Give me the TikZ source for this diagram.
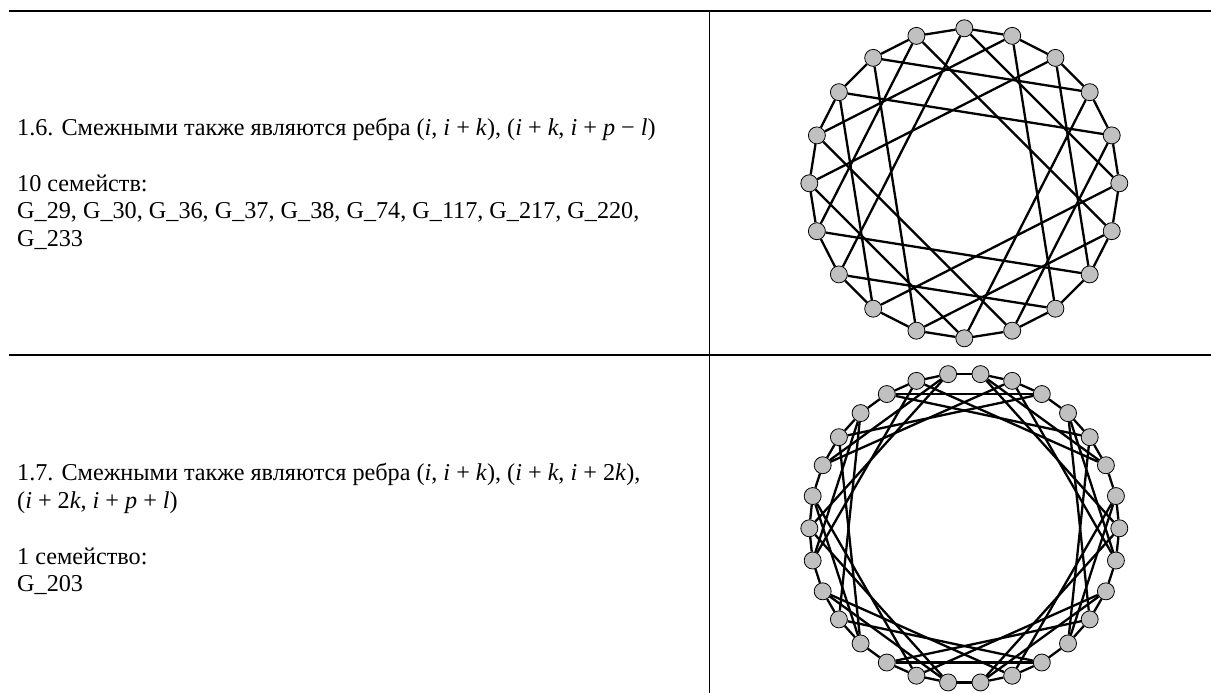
\documentclass[tikz,border=0pt]{standalone}
\usepackage{fontspec}
\setmainfont{Liberation Serif}
\usepackage{xcolor}
\usepackage{tikz}
\definecolor{nodegray}{RGB}{192,192,192}

\begin{document}
\begin{tikzpicture}[
      x=1pt, y=1pt,
      vertex/.style={circle, draw=black, line width=0.8pt, fill=nodegray, minimum size=17pt, inner sep=0pt},
      edge/.style={line width=2.3pt},
      rule/.style={line width=2.5pt},
      txt/.style={anchor=base west, inner sep=0pt, font=\fontsize{24.2}{27.7}\selectfont}
    ]
      \useasboundingbox (0,0) rectangle (1211,693);
      % table rules
      \draw[rule] (9,682) -- (1211,682);
      \draw[rule] (9,338) -- (1211,338);
      \draw[line width=1pt] (709,683) -- (709,0);
      % texts, row 1.6
      \node[txt] (t16a) at (17,557) {1.6. Смежными также являются ребра (\textit{i}, \textit{i} + \textit{k}), (\textit{i} + \textit{k}, \textit{i} + \textit{p} − \textit{l})};
      \node[txt] (t16b) at (17,501.6) {10 семейств:};
      \node[txt] (t16c) at (17,474) {G\_29, G\_30, G\_36, G\_37, G\_38, G\_74, G\_117, G\_217, G\_220,};
      \node[txt] (t16d) at (17,446.2) {G\_233};
      % texts, row 1.7
      \node[txt] (t17a) at (17,212) {1.7. Смежными также являются ребра (\textit{i}, \textit{i} + \textit{k}), (\textit{i} + \textit{k}, \textit{i} + 2\textit{k}),};
      \node[txt] (t17b) at (17,184.3) {(\textit{i} + 2\textit{k}, \textit{i} + \textit{p} + \textit{l})};
      \node[txt] (t17c) at (17,128.9) {1 семейство:};
      \node[txt] (t17d) at (17,101.2) {G\_203};
      % graph of 1.6: 20 vertices
      \begin{scope}[shift={(964.3,509.7)}]
        \foreach \i in {0,...,19}
          \node[vertex] (t\i) at ({90-18*\i}:155) {};
      \end{scope}
      \foreach \i in {0,...,19} {
        \pgfmathtruncatemacro\na{mod(\i+1,20)}
        \draw[edge] (t\i) -- (t\na);
      }
      \foreach \i in {0,2,...,18} {
        \pgfmathtruncatemacro\na{mod(\i+5,20)}
        \pgfmathtruncatemacro\nb{mod(\i+13,20)}
        \draw[edge] (t\i) -- (t\na) (t\i) -- (t\nb);
      }
      % graph of 1.7: 30 vertices
      \begin{scope}[shift={(964.3,164.7)}]
        \foreach \i in {0,...,29}
          \node[vertex] (b\i) at ({12*\i}:155) {};
      \end{scope}
      \foreach \i in {0,...,29} {
        \pgfmathtruncatemacro\na{mod(\i+1,30)}
        \pgfmathtruncatemacro\nb{mod(\i+7,30)}
        \pgfmathtruncatemacro\nc{mod(\i+5,30)}
        \pgfmathtruncatemacro\rem{mod(\i,3)}
        \draw[edge] (b\i) -- (b\na);
        \ifnum\rem=1 \else \draw[edge] (b\i) -- (b\nb); \fi
        \ifnum\rem=2 \draw[edge] (b\i) -- (b\nc); \fi
      }
    \end{tikzpicture}
\end{document}
